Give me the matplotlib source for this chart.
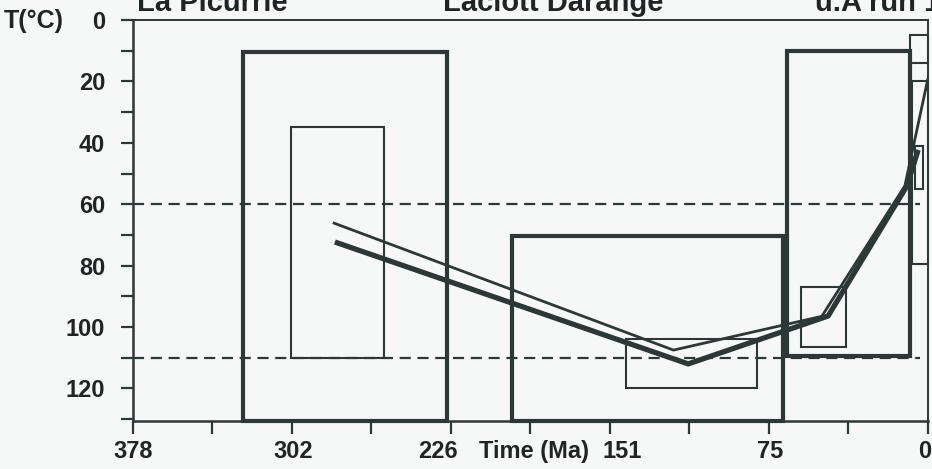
import matplotlib
matplotlib.use("Agg")
import matplotlib.pyplot as plt
from matplotlib.patches import Rectangle
from matplotlib.ticker import FixedLocator, MultipleLocator
from matplotlib.transforms import blended_transform_factory

plt.rcParams["font.family"] = ["Liberation Sans", "DejaVu Sans"]

INK = "#2c3836"
TXT = "#1f2524"

# constraint boxes: (t_old, t_young, T_top, T_bottom)
thick_boxes = [
    (325.5, 228.5, 10.5, 130.6),
    (198.0, 69.0, 70.5, 130.6),
    (67.0, 8.5, 10.0, 109.5),
]
thin_boxes = [
    (303.0, 258.5, 35.0, 110.0),
    (143.6, 81.3, 103.8, 120.0),
    (60.5, 39.0, 87.0, 106.5),
    (8.7, 0.0, 5.0, 14.0),
    (7.5, 0.0, 20.0, 79.5),
    (6.0, 2.5, 41.0, 55.0),
]

# modelled time-temperature paths
thin_path_t = [283.0, 121.0, 50.5, 11.0, 0.0]
thin_path_T = [66.0, 107.5, 96.5, 54.0, 19.0]
thick_path_t = [282.0, 114.0, 47.5, 10.0, 4.7]
thick_path_T = [72.3, 112.0, 96.4, 54.0, 42.3]

dashed_levels = [60, 110]

xticks = [378.0, 302.4, 226.8, 151.2, 75.6, 0.0]
xtick_labels = ["378", "302", "226", "151", "75", "0"]
# where the hand-set labels sit (in Ma) under the ticks
xlabel_pos = [378.0, 302.0, 233.0, 145.5, 75.0, 1.8]
yticks = [0, 20, 40, 60, 80, 100, 120]

headers = ["La Picurrie", "Laclott Darange", "u.A run 1"]
header_x = [137, 443, 815]

fig = plt.figure(figsize=(9.32, 4.69), dpi=100)
fig.patch.set_facecolor("#f6f8f8")
ax = fig.add_axes([0.1427, 0.1023, 0.853, 0.855])
ax.set_facecolor("#f6f8f8")

ax.set_xlim(378, 0)
ax.set_ylim(130.6, 0)

for lvl in dashed_levels:
    ax.axhline(lvl, xmin=0, xmax=0.99, color=INK, lw=1.6, ls=(0, (5, 3)), zorder=1)

for t0, t1, T0, T1 in thick_boxes:
    ax.add_patch(Rectangle((t0, T0), t1 - t0, T1 - T0, fill=False, ec=INK, lw=3.0,
                           zorder=2, clip_on=False))
for t0, t1, T0, T1 in thin_boxes:
    ax.add_patch(Rectangle((t0, T0), t1 - t0, T1 - T0, fill=False, ec=INK, lw=1.5,
                           zorder=2, clip_on=False))

ax.plot(thin_path_t, thin_path_T, color=INK, lw=2.0, zorder=3, solid_capstyle="butt")
ax.plot(thick_path_t, thick_path_T, color=INK, lw=3.8, zorder=3, solid_capstyle="butt")

for side in ["left", "bottom"]:
    ax.spines[side].set_linewidth(1.8)
    ax.spines[side].set_color(INK)
for side in ["top", "right"]:
    ax.spines[side].set_linewidth(1.4)
    ax.spines[side].set_color(INK)

ax.xaxis.set_major_locator(FixedLocator(xticks))
ax.xaxis.set_minor_locator(FixedLocator([(a + b) / 2 for a, b in zip(xticks[:-1], xticks[1:])]))
ax.set_xticklabels([])
ax.yaxis.set_major_locator(FixedLocator(yticks))
ax.yaxis.set_minor_locator(MultipleLocator(10))

ax.tick_params(axis="both", which="both", direction="out", color=INK, width=1.6,
               length=9, labelsize=17, labelcolor=TXT)
ax.tick_params(axis="y", pad=11)
for lab in ax.get_yticklabels():
    lab.set_fontweight("bold")

trans = blended_transform_factory(ax.transData, fig.transFigure)
for x, s in zip(xlabel_pos, xtick_labels):
    ax.text(x, 1 - 451 / 469, s, transform=trans, fontsize=17, fontweight="bold",
            color=TXT, ha="center", va="center")

fig.text(0.004, 1 - 21 / 469, "T(°C)", fontsize=18, fontweight="bold", color=TXT,
         va="center", ha="left")
fig.text(534 / 932, 1 - 451 / 469, "Time (Ma)", fontsize=17, fontweight="bold",
         color=TXT, va="center", ha="center")

# headers cut off at the top edge of the scan
for x, s in zip(header_x, headers):
    fig.text(x / 932, 1 - 11 / 469, s, fontsize=21, fontweight="bold", color=TXT,
             va="baseline", ha="left")

fig.savefig("out.png", dpi=100, facecolor=fig.get_facecolor())
